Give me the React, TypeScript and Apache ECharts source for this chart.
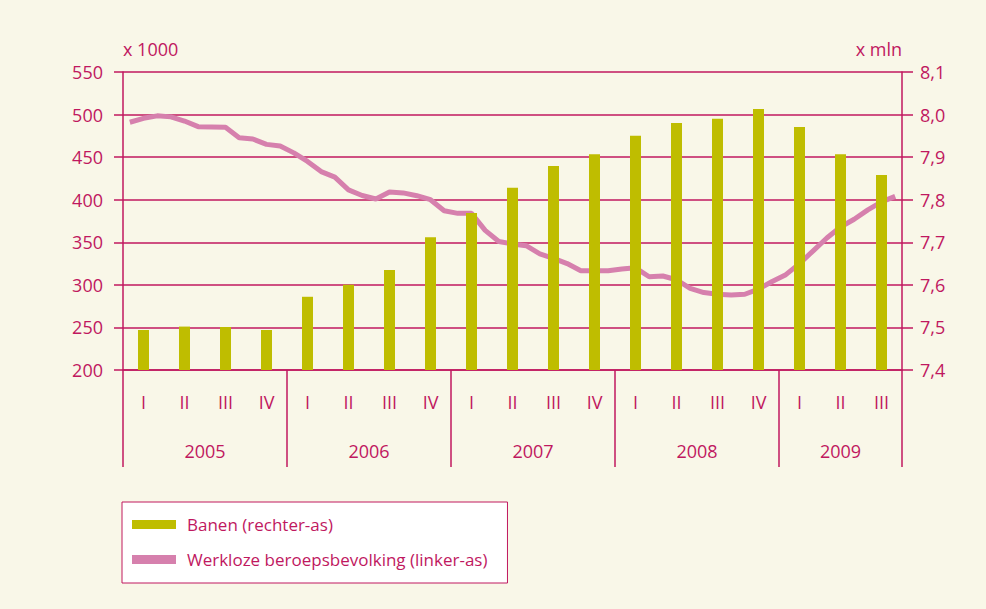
import React, { useEffect, useRef } from "react";
import * as echarts from "echarts";

const quarterLabels = ["I","II","III","IV","I","II","III","IV","I","II","III","IV","I","II","III","IV","I","II","III"];
const years = ["2005", "2006", "2007", "2008", "2009"];
const quartersPerYear = [4, 4, 4, 4, 3];
// Banen (x mln), right axis
const banen = [7.494, 7.502, 7.501, 7.494, 7.572, 7.600, 7.635, 7.712, 7.769, 7.828, 7.879, 7.907, 7.950, 7.980, 7.990, 8.013, 7.971, 7.907, 7.858];
// Werkloze beroepsbevolking (x 1000), monthly Jan 2005 - Sep 2009, left axis
const werkloos = [
  491, 495.6, 498.5, 497.3, 492.4, 485.8, 485.4, 485, 472.8, 471.3, 465, 463,
  455, 445, 433, 426.5, 411.5, 405, 400.8, 409, 408, 404.7, 400, 387,
  384, 384, 364, 351, 348, 346, 336.5, 331, 325, 316.6, 316.6, 316.6,
  318.5, 320, 309.5, 310.4, 306, 296, 291, 289, 288, 289, 295, 304,
  312, 325, 340, 355, 368, 377, 388, 397.5, 404
];
const months = werkloos.map((_, i) => `${2005 + Math.floor(i / 12)}-${String((i % 12) + 1).padStart(2, "0")}`);
const leftTicks = { min: 200, max: 550, interval: 50 };
const rightTicks = { min: 7.4, max: 8.1, interval: 0.1 };

const CRIMSON = "#c0185f";
const FONT = "'Open Sans', 'Noto Sans', sans-serif";

export default function App() {
  const ref = useRef<HTMLDivElement>(null);
  useEffect(() => {
    if (!ref.current) return;
    document.body.style.margin = "0";
    document.body.style.background = "#f9f7e8";
    const chart = echarts.init(ref.current, undefined, { renderer: "svg" });

    const boundaries: number[] = [0];
    quartersPerYear.forEach((q) => boundaries.push(boundaries[boundaries.length - 1] + q));
    const yearCenters = years.map((_, i) => (boundaries[i] + boundaries[i + 1]) / 2);
    const totalQuarters = boundaries[boundaries.length - 1];
    const boundarySet = new Set(boundaries.slice(0, -1));

    chart.setOption({
      animation: false,
      backgroundColor: "#f9f7e8",
      textStyle: { fontFamily: FONT, color: CRIMSON },
      grid: { left: 123, right: 84, top: 72, bottom: 239, containLabel: false },
      legend: {
        orient: "vertical",
        left: 122,
        top: 502,
        padding: [14, 20, 15, 10],
        itemGap: 18,
        itemWidth: 44,
        itemHeight: 9,
        selectedMode: false,
        backgroundColor: "#ffffff",
        borderColor: CRIMSON,
        borderWidth: 1,
        borderRadius: 0,
        textStyle: { fontFamily: FONT, fontSize: 17, color: CRIMSON, padding: [0, 0, 0, 6] },
        data: [
          { name: "Banen (rechter-as)", icon: "rect" },
          { name: "Werkloze beroepsbevolking (linker-as)", icon: "rect" },
        ],
      },
      xAxis: [
        {
          type: "category",
          position: "bottom",
          data: quarterLabels,
          boundaryGap: true,
          axisLine: { show: true, lineStyle: { color: CRIMSON, width: 1.5 } },
          axisTick: {
            show: true,
            length: 97,
            interval: (i: number) => boundarySet.has(i),
            lineStyle: { color: CRIMSON, width: 1.5 },
          },
          axisLabel: { interval: 0, margin: 23, fontSize: 18, color: CRIMSON, fontFamily: FONT },
          splitLine: { show: false },
        },
        {
          type: "category",
          position: "bottom",
          data: months,
          boundaryGap: true,
          show: false,
        },
        {
          type: "value",
          position: "bottom",
          min: 0,
          max: totalQuarters,
          interval: 0.5,
          axisLine: { show: false },
          axisTick: { show: false },
          splitLine: { show: false },
          axisLabel: {
            margin: 72,
            fontSize: 18,
            color: CRIMSON,
            fontFamily: FONT,
            showMinLabel: true,
            showMaxLabel: true,
            formatter: (v: number) => {
              const idx = yearCenters.findIndex((c) => Math.abs(c - v) < 1e-6);
              return idx >= 0 ? years[idx] : "";
            },
          },
        },
      ],
      yAxis: [
        {
          type: "value",
          position: "left",
          ...leftTicks,
          name: "x 1000",
          nameLocation: "end",
          nameGap: 14,
          nameTextStyle: { align: "left", fontSize: 18, color: CRIMSON, fontFamily: FONT },
          axisLine: { show: true, lineStyle: { color: CRIMSON, width: 1.5 } },
          axisTick: { show: true, length: 9, lineStyle: { color: CRIMSON, width: 1.5 } },
          axisLabel: { margin: 20, fontSize: 18, color: CRIMSON, fontFamily: FONT },
          splitLine: { show: true, lineStyle: { color: CRIMSON, width: 1.5 } },
        },
        {
          type: "value",
          position: "right",
          ...rightTicks,
          name: "x mln",
          nameLocation: "end",
          nameGap: 14,
          nameTextStyle: { align: "right", fontSize: 18, color: CRIMSON, fontFamily: FONT },
          axisLine: { show: true, lineStyle: { color: CRIMSON, width: 1.5 } },
          axisTick: { show: true, length: 11, lineStyle: { color: CRIMSON, width: 1.5 } },
          axisLabel: {
            margin: 18,
            fontSize: 18,
            color: CRIMSON,
            fontFamily: FONT,
            formatter: (v: number) => v.toFixed(1).replace(".", ","),
          },
          splitLine: { show: false },
        },
      ],
      series: [
        {
          name: "Werkloze beroepsbevolking (linker-as)",
          type: "line",
          xAxisIndex: 1,
          yAxisIndex: 0,
          data: werkloos,
          symbol: "none",
          z: 1,
          color: "#d680ad",
          lineStyle: { color: "#d680ad", width: 5 },
        },
        {
          name: "Banen (rechter-as)",
          type: "bar",
          xAxisIndex: 0,
          yAxisIndex: 1,
          data: banen,
          barWidth: 11,
          z: 3,
          itemStyle: { color: "#bfbd00" },
        },
      ],
    });
    return () => chart.dispose();
  }, []);
  return <div ref={ref} style={{ position: "absolute", left: 0, top: 0, width: 986, height: 609 }} />;
}
